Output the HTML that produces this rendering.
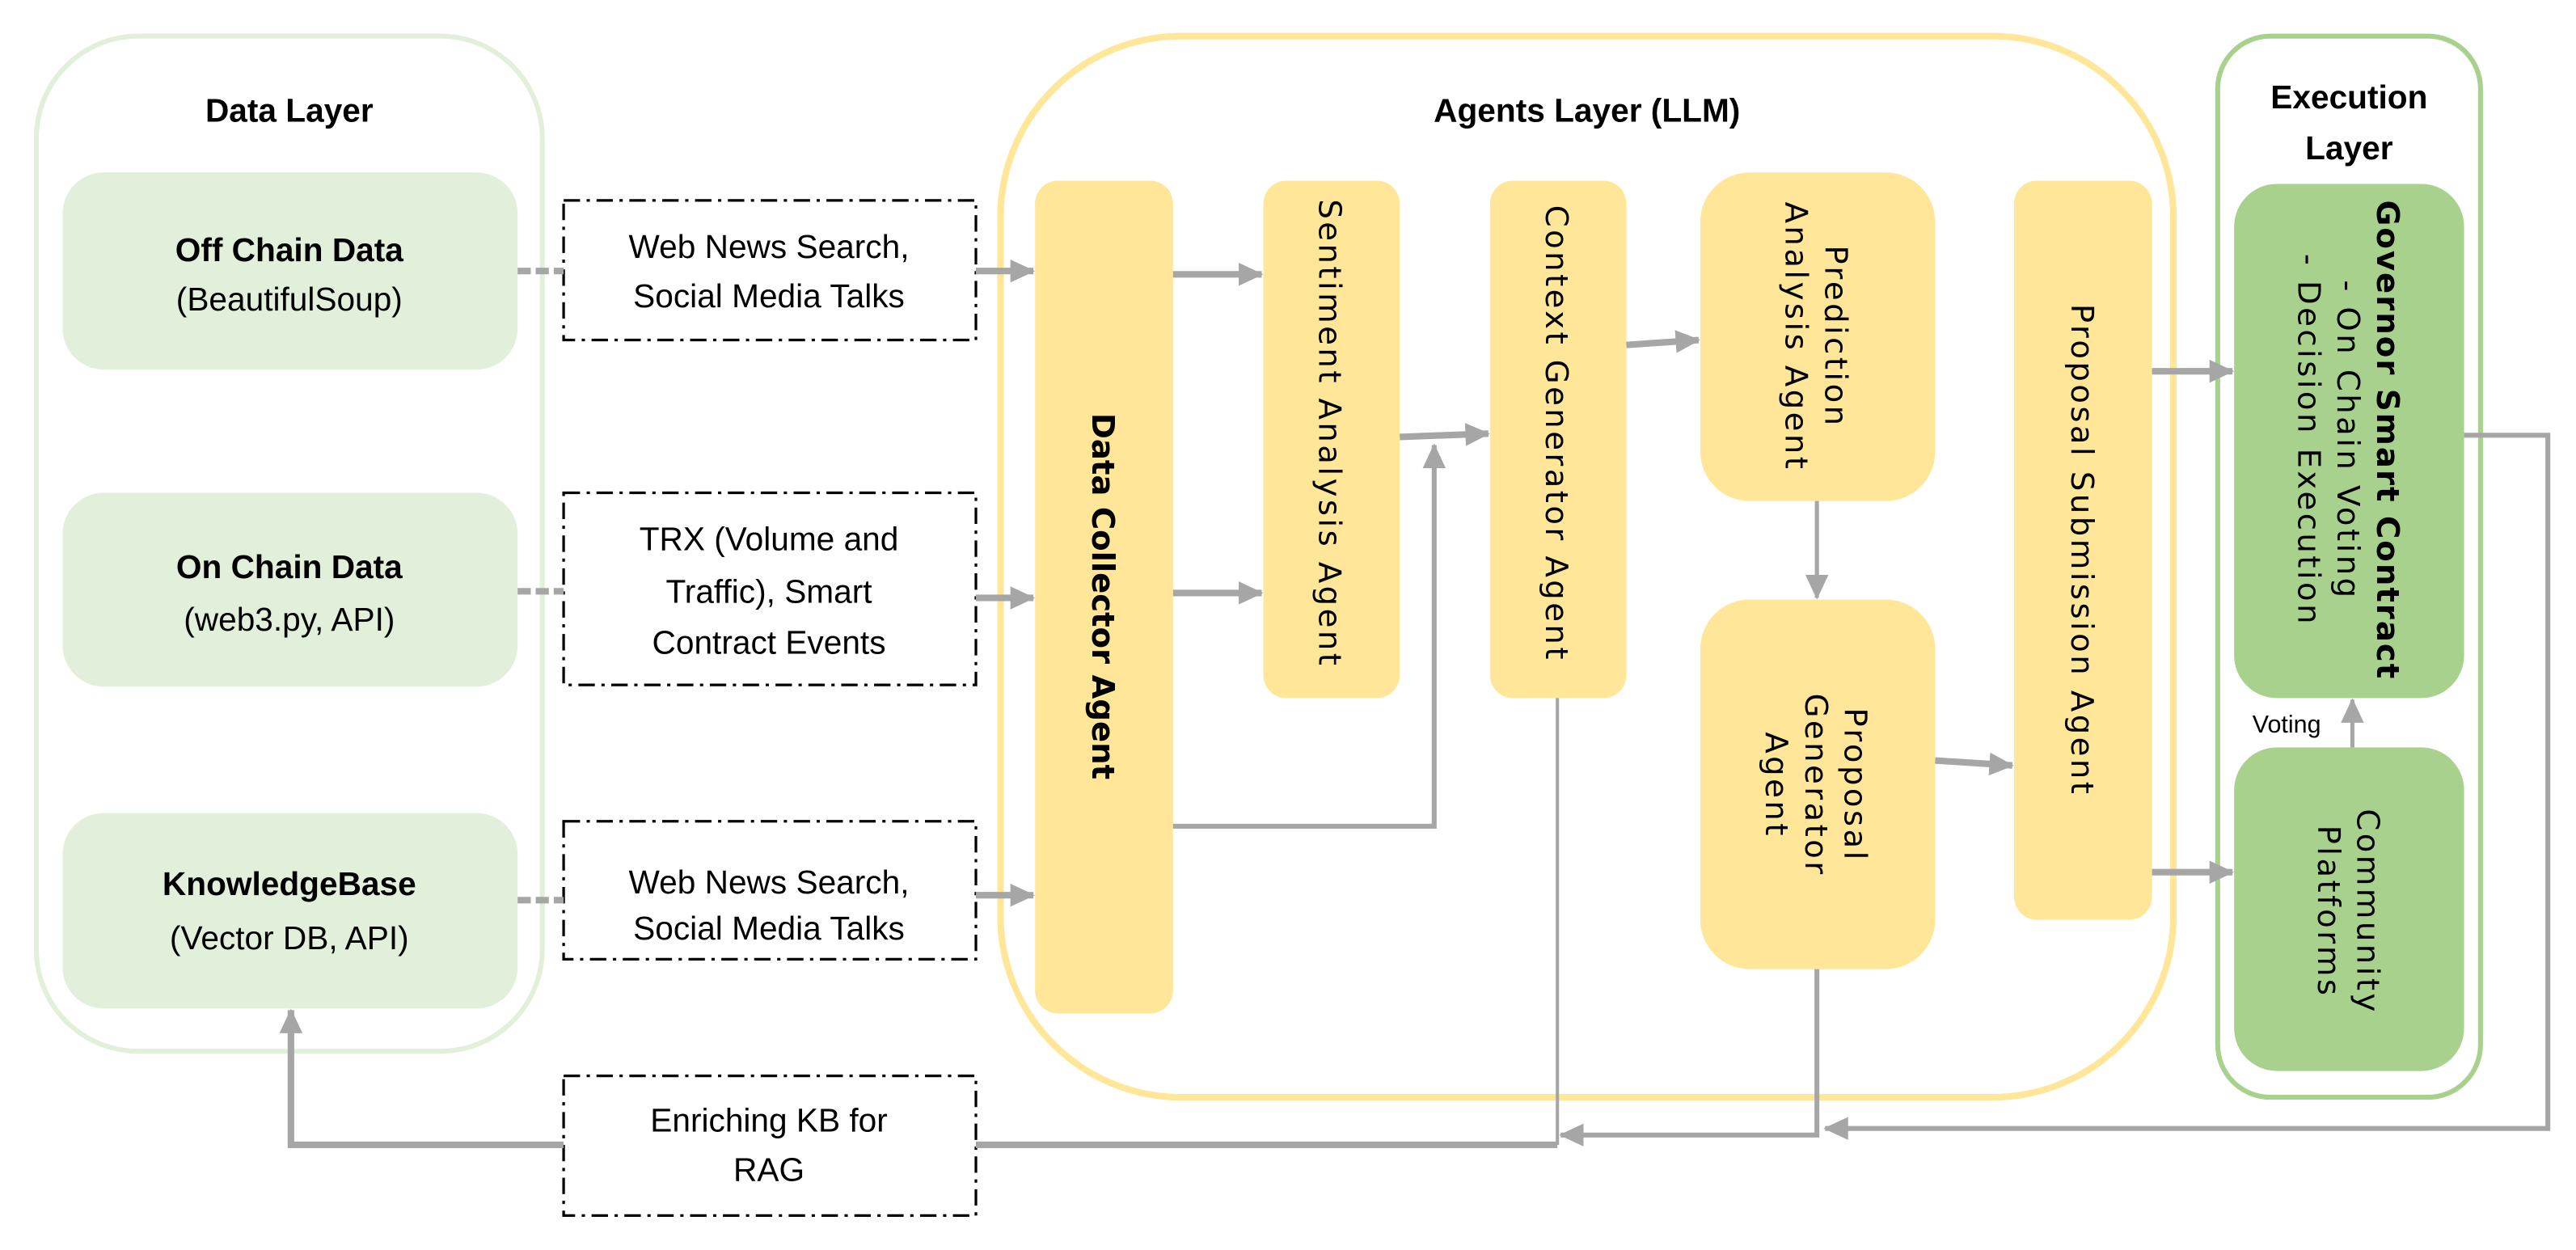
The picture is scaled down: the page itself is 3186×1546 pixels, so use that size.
<!DOCTYPE html>
<html><head><meta charset="utf-8"><style>
html,body{margin:0;padding:0;background:#fff;}
svg{display:block;}
.h{font-family:"Liberation Sans",sans-serif;fill:#000;}
.v{font-family:"DejaVu Sans",sans-serif;fill:#000;}
</style></head><body>
<svg width="3186" height="1546" viewBox="0 0 1568 761" xmlns="http://www.w3.org/2000/svg">
<defs>
<marker id="a" markerUnits="userSpaceOnUse" markerWidth="16" markerHeight="16" refX="14" refY="8" orient="auto">
<path d="M0,1 L15,8 L0,15 Z" fill="#a6a6a6"/></marker>
</defs>
<rect x="22" y="22" width="308" height="618" rx="62" fill="none" stroke="#e2efd9" stroke-width="3"/>
<rect x="609" y="22" width="714" height="646" rx="110" fill="none" stroke="#ffe699" stroke-width="4"/>
<rect x="1350" y="22" width="160" height="646" rx="32" fill="none" stroke="#a9d18e" stroke-width="3"/>
<text class="h" x="176" y="74" font-size="20" font-weight="bold" text-anchor="middle">Data Layer</text>
<text class="h" x="966" y="74" font-size="20" font-weight="bold" text-anchor="middle">Agents Layer (LLM)</text>
<text class="h" x="1430" y="66" font-size="20" font-weight="bold" text-anchor="middle">Execution</text>
<text class="h" x="1430" y="97" font-size="20" font-weight="bold" text-anchor="middle">Layer</text>
<g class="h" font-size="20" text-anchor="middle">
<rect x="38" y="105" width="277" height="120" rx="25" fill="#e2efda"/>
<text x="176" y="159" font-weight="bold">Off Chain Data</text>
<text x="176" y="189">(BeautifulSoup)</text>
<rect x="38" y="300" width="277" height="118" rx="25" fill="#e2efda"/>
<text x="176" y="352" font-weight="bold">On Chain Data</text>
<text x="176" y="384">(web3.py, API)</text>
<rect x="38" y="495" width="277" height="119" rx="25" fill="#e2efda"/>
<text x="176" y="545" font-weight="bold">KnowledgeBase</text>
<text x="176" y="578">(Vector DB, API)</text>
</g>
<g fill="none" stroke="#000" stroke-width="1.6" stroke-dasharray="10,4,2,4">
<rect x="343" y="122" width="251" height="85"/>
<rect x="343" y="300" width="251" height="117"/>
<rect x="343" y="500" width="251" height="84"/>
<rect x="343" y="655" width="251" height="85"/>
</g>
<g class="h" font-size="20" text-anchor="middle">
<text x="468" y="157">Web News Search,</text>
<text x="468" y="187">Social Media Talks</text>
<text x="468" y="335">TRX (Volume and</text>
<text x="468" y="367">Traffic), Smart</text>
<text x="468" y="398">Contract Events</text>
<text x="468" y="544">Web News Search,</text>
<text x="468" y="572">Social Media Talks</text>
<text x="468" y="689">Enriching KB for</text>
<text x="468" y="719">RAG</text>
</g>
<g fill="#ffe699">
<rect x="630" y="110" width="84" height="507" rx="14"/>
<rect x="769" y="110" width="83" height="315" rx="14"/>
<rect x="907" y="110" width="83" height="315" rx="14"/>
<rect x="1035" y="105" width="143" height="200" rx="30"/>
<rect x="1035" y="365" width="143" height="225" rx="30"/>
<rect x="1226" y="110" width="84" height="450" rx="14"/>
</g>
<g fill="#a9d18e">
<rect x="1360" y="112" width="140" height="313" rx="26"/>
<rect x="1360" y="455" width="140" height="197" rx="26"/>
</g>
<g class="v" font-size="19" text-anchor="middle">
<text transform="translate(672,363) rotate(90)" y="7" font-weight="bold">Data Collector Agent</text>
<g letter-spacing="1.7">
<text transform="translate(810,264) rotate(90)" y="7">Sentiment Analysis Agent</text>
<text transform="translate(948,264) rotate(90)" y="7">Context Generator Agent</text>
<g transform="translate(1106,205) rotate(90)"><text y="-5">Prediction</text><text y="19">Analysis Agent</text></g>
<g transform="translate(1106,478) rotate(90)"><text y="-17">Proposal</text><text y="7">Generator</text><text y="31">Agent</text></g>
<text transform="translate(1268,335) rotate(90)" y="7">Proposal Submission Agent</text>
<g transform="translate(1430,268) rotate(90)"><text y="-17" font-weight="bold" letter-spacing="1">Governor Smart Contract</text><text y="7">- On Chain Voting</text><text y="31">- Decision Execution</text></g>
<g transform="translate(1430,555) rotate(90)"><text y="-5">Community</text><text y="19">Platforms</text></g>
</g>
</g>
<text class="h" x="1392" y="446" font-size="15" text-anchor="middle">Voting</text>
<g stroke="#a6a6a6" fill="none">
<g stroke-width="4" stroke-dasharray="8,3">
<line x1="315" y1="165" x2="343" y2="165"/>
<line x1="315" y1="360" x2="343" y2="360"/>
<line x1="315" y1="548" x2="343" y2="548"/>
</g>
<g stroke-width="4">
<line x1="594" y1="165" x2="629" y2="165" marker-end="url(#a)"/>
<line x1="594" y1="364" x2="629" y2="364" marker-end="url(#a)"/>
<line x1="594" y1="545" x2="629" y2="545" marker-end="url(#a)"/>
<line x1="714" y1="167" x2="768" y2="167" marker-end="url(#a)"/>
<line x1="714" y1="361" x2="768" y2="361" marker-end="url(#a)"/>
<line x1="852" y1="266" x2="906" y2="264" marker-end="url(#a)"/>
<line x1="990" y1="210" x2="1034" y2="207" marker-end="url(#a)"/>
<line x1="1178" y1="463" x2="1225" y2="466" marker-end="url(#a)"/>
<line x1="1310" y1="226" x2="1359" y2="226" marker-end="url(#a)"/>
<line x1="1310" y1="531" x2="1359" y2="531" marker-end="url(#a)"/>
<polyline points="714,503 873,503 873,271" stroke-width="3" marker-end="url(#a)"/>
<polyline points="1500,265 1551,265 1551,687 1111,687" stroke-width="3" marker-end="url(#a)"/>
<polyline points="1106,590 1106,691 950,691" stroke-width="3" marker-end="url(#a)"/>
<line x1="948" y1="425" x2="948" y2="697" stroke-width="2"/>
<line x1="948" y1="697" x2="594" y2="697"/>
<polyline points="343,697 177,697 177,615" marker-end="url(#a)"/>
</g>
<line x1="1106" y1="305" x2="1106" y2="364" stroke-width="2.5" marker-end="url(#a)"/>
<line x1="1432" y1="455" x2="1432" y2="426" stroke-width="2.5" marker-end="url(#a)"/>
</g>
</svg>
</body></html>
